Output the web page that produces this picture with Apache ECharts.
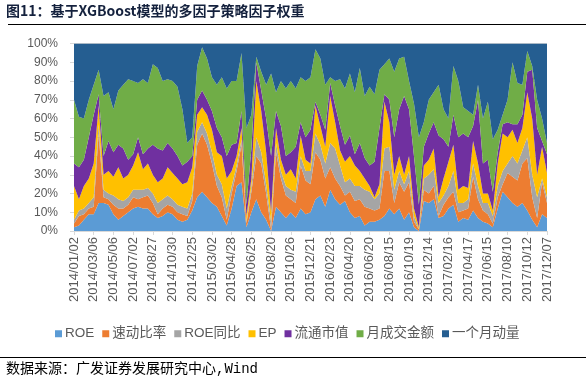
<!DOCTYPE html>
<html><head><meta charset="utf-8">
<script src="https://cdn.jsdelivr.net/npm/echarts@6/dist/echarts.min.js"></script>
<style>html,body{margin:0;padding:0;background:#fff}#c{width:586px;height:382px}</style>
</head><body><div id="c"></div>
<script>
const dates = ["2014/01/02","2014/01/16","2014/02/07","2014/02/20","2014/03/06","2014/03/20","2014/04/03","2014/04/21","2014/05/06","2014/05/20","2014/06/04","2014/06/18","2014/07/02","2014/07/16","2014/07/30","2014/08/13","2014/08/27","2014/09/10","2014/09/24","2014/10/16","2014/10/30","2014/11/13","2014/11/27","2014/12/11","2014/12/25","2015/01/09","2015/01/23","2015/02/06","2015/03/02","2015/03/16","2015/03/30","2015/04/14","2015/04/28","2015/05/13","2015/05/27","2015/06/10","2015/06/25","2015/07/09","2015/07/23","2015/08/06","2015/08/20","2015/09/08","2015/09/22","2015/10/13","2015/10/26","2015/11/09","2015/11/23","2015/12/07","2015/12/21","2016/01/05","2016/01/19","2016/02/02","2016/02/23","2016/03/08","2016/03/22","2016/04/06","2016/04/20","2016/05/05","2016/05/19","2016/06/03","2016/06/20","2016/07/04","2016/07/18","2016/08/01","2016/08/15","2016/08/29","2016/09/12","2016/09/28","2016/10/19","2016/11/02","2016/11/16","2016/11/30","2016/12/14","2016/12/28","2017/01/12","2017/01/26","2017/02/16","2017/03/02","2017/03/16","2017/03/30","2017/04/17","2017/05/02","2017/05/16","2017/05/31","2017/06/15","2017/06/29","2017/07/13","2017/07/27","2017/08/10","2017/08/24","2017/09/07","2017/09/21","2017/10/12","2017/10/26","2017/11/09","2017/11/23","2017/12/07"];

const roe      = [2,3,6,9,9,15,15,14,9,6,8,10,12,13,12,12,9,7,8,10,9,6,5,6,11,18,21,18,15,13,8,3,12,24,26,2,10,17,10,6,0,13,10,7,10,7,12,9,10,17,19,13,22,17,14,16,10,7,8,3,5,5,6,8,12,9,12,6,10,2,0,16,15,17,7,8,12,14,5,7,6,11,7,5,4,2,12,21,18,15,13,15,11,6,2,9,7];
const quick    = [2,5,3,3,4,37,3,3,5,6,4,4,6,4,6,7,6,2,4,4,4,4,4,2,5,28,31,28,21,11,10,3,8,8,20,2,11,23,26,14,1,29,18,12,7,8,23,18,15,25,19,15,12,11,10,3,11,9,9,10,7,6,6,24,20,6,14,15,16,3,1,6,5,7,1,6,6,7,5,4,6,18,10,6,5,2,6,4,13,14,14,21,28,12,5,17,8];
const roeYoy   = [2,3,3,3,5,5,4,3,5,5,4,4,4,5,4,4,5,6,5,5,4,4,4,4,4,7,6,6,6,6,7,6,4,3,3,1,3,10,6,5,4,5,4,5,5,6,5,5,7,10,8,8,13,16,11,7,7,8,7,9,9,6,8,12,13,7,6,4,6,3,0,6,10,9,7,5,6,11,5,4,5,7,7,4,6,4,6,7,5,11,9,7,11,12,11,2,3];
const ep       = [18,6,12,13,18,10,8,12,10,17,12,12,13,20,11,13,10,11,11,15,14,14,12,14,14,9,8,10,12,12,15,16,8,5,6,3,4,30,22,17,5,8,6,6,11,7,11,6,4,15,10,9,25,14,8,11,12,11,8,6,3,1,5,25,13,8,8,5,8,4,1,7,8,11,3,9,13,14,7,9,6,12,12,5,5,3,12,20,14,14,11,12,24,30,12,17,13];
const floatCap = [12,17,14,22,26,6,10,16,13,12,16,8,6,8,8,8,16,18,15,13,13,12,10,11,6,8,9,8,10,13,10,12,14,7,9,6,16,10,11,18,30,9,18,10,9,17,7,12,18,2,6,9,7,9,13,9,11,6,15,11,11,19,30,4,12,20,25,42,25,28,12,10,14,14,33,21,8,16,28,28,27,8,34,16,18,10,6,5,8,3,10,7,11,26,25,3,10];
const turnover = [34,27,22,20,16,13,32,26,23,29,34,43,39,29,40,35,43,43,37,34,36,37,30,10,10,18,23,22,18,23,32,36,34,33,31,41,18,3,10,18,44,10,24,36,38,31,24,30,28,28,30,24,3,13,25,30,33,33,40,33,42,36,31,16,22,35,27,21,15,28,36,13,18,16,27,16,15,26,30,14,14,6,8,24,31,28,12,5,12,33,22,16,11,2,15,12,6];
const momentum = [30,39,40,30,22,14,28,26,35,25,22,19,20,21,19,21,11,13,20,19,20,23,35,53,50,12,2,8,18,22,18,24,20,20,5,45,38,7,15,22,16,26,20,24,20,24,18,20,18,3,8,22,18,20,19,24,16,26,13,28,23,27,14,11,8,15,8,7,20,32,50,42,30,26,22,35,40,12,20,34,36,38,22,40,31,51,46,38,30,10,21,22,4,12,30,40,53];

const names  = ["ROE","速动比率","ROE同比","EP","流通市值","月成交金额","一个月动量"];
const colors = ["#5B9BD5","#ED7D31","#A5A5A5","#FFC000","#7030A0","#70AD47","#255E91"];
const values = [roe, quick, roeYoy, ep, floatCap, turnover, momentum];

const chart = echarts.init(document.getElementById('c'), null, {renderer:'canvas'});
const FONT = '"Liberation Sans","Noto Sans CJK SC",sans-serif';
chart.setOption({
  animation:false,
  color: colors,
  grid:{left:74, right:39, top:43.5, bottom:151, containLabel:false},
  legend:{
    data:names, left:50, top:322, icon:'rect', itemWidth:7, itemHeight:7, itemGap:8,
    textStyle:{fontSize:13.5, color:'#595959', fontFamily:FONT, padding:[0,0,0,-2]}
  },
  xAxis:{
    type:'category', data:dates, boundaryGap:false,
    axisLine:{lineStyle:{color:'#D9D9D9'}},
    axisTick:{show:true, interval:3, length:4, lineStyle:{color:'#D9D9D9'}},
    axisLabel:{interval:3, rotate:90, fontSize:13, color:'#595959', fontFamily:FONT, margin:6}
  },
  yAxis:{
    type:'value', min:0, max:100, interval:10,
    axisLine:{show:true, lineStyle:{color:'#D9D9D9'}},
    axisTick:{show:true, length:4, lineStyle:{color:'#D9D9D9'}},
    splitLine:{show:true, lineStyle:{color:'#D9D9D9'}},
    axisLabel:{formatter:'{value}%', fontSize:12, color:'#595959', fontFamily:FONT, margin:16}
  },
  series: names.map((n,k)=>({
    name:n, type:'line', stack:'total', data:values[k], symbol:'none',
    lineStyle:{width:0}, areaStyle:{color:colors[k], opacity:1}, itemStyle:{color:colors[k]}
  })),
  graphic:[
    {type:'text', left:6, top:4, style:{text:'图11：基于XGBoost模型的多因子策略因子权重', fontSize:14, fontWeight:'bold', fill:'#14213D', fontFamily:'"Noto Sans CJK SC","Liberation Sans",sans-serif'}},
    {type:'line', shape:{x1:8, y1:24.5, x2:586, y2:24.5}, style:{stroke:'#000', lineWidth:1.2}},
    {type:'line', shape:{x1:0, y1:357.5, x2:586, y2:357.5}, style:{stroke:'#000', lineWidth:1}},
    {type:'text', left:6, top:362, style:{text:'数据来源：广发证券发展研究中心,Wind', fontSize:14, fill:'#000', fontFamily:'"Liberation Mono","Noto Sans CJK SC",monospace'}}
  ]
});
</script></body></html>
